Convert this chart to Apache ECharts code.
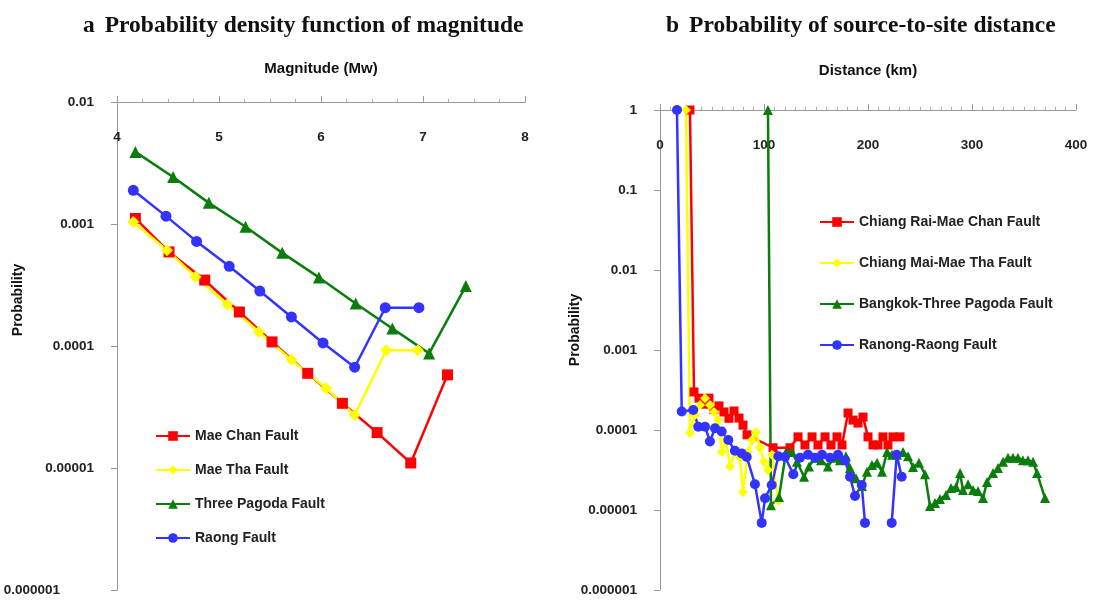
<!DOCTYPE html>
<html lang="en">
<head>
<meta charset="UTF-8">
<title>Magnitude and distance probability</title>
<script src="https://cdn.jsdelivr.net/npm/echarts@6/dist/echarts.min.js"></script>
<style>
  html, body { margin: 0; padding: 0; background: #fff; }
  #chart { width: 1095px; height: 609px; }
</style>
</head>
<body>
<div id="chart"></div>
<script>
// ---- panel a: probability density of magnitude ----
var magRed = [4.18, 4.51, 4.86, 5.20, 5.52, 5.87, 6.21, 6.55, 6.88, 7.24];
var probRed = [1.11e-3, 5.9e-4, 3.47e-4, 1.9e-4, 1.08e-4, 5.97e-5, 3.39e-5, 1.95e-5, 1.1e-5, 5.8e-5];
var magYellow = [4.16, 4.49, 4.77, 5.08, 5.39, 5.71, 6.05, 6.33, 6.64, 6.95];
var probYellow = [1.04e-3, 6.1e-4, 3.69e-4, 2.2e-4, 1.31e-4, 7.7e-5, 4.5e-5, 2.72e-5, 9.25e-5, 9.25e-5];
var magGreen = [4.18, 4.55, 4.90, 5.26, 5.62, 5.98, 6.34, 6.70, 7.06, 7.42];
var probGreen = [3.9e-3, 2.43e-3, 1.49e-3, 9.5e-4, 5.8e-4, 3.65e-4, 2.23e-4, 1.39e-4, 8.7e-5, 3.1e-4];
var magBlue = [4.16, 4.48, 4.78, 5.10, 5.40, 5.71, 6.02, 6.33, 6.63, 6.96];
var probBlue = [1.89e-3, 1.16e-3, 7.2e-4, 4.5e-4, 2.82e-4, 1.73e-4, 1.06e-4, 6.7e-5, 2.06e-4, 2.06e-4];
var leftNames = ['Mae Chan Fault', 'Mae Tha Fault', 'Three Pagoda Fault', 'Raong Fault'];

// ---- panel b: probability of source-to-site distance ----
var distRed = [28.8, 32.7, 37.5, 42.3, 47.1, 51.9, 56.7, 61.5, 66.3, 71.2, 76, 79.8, 83.7, 108.7, 125, 132.7, 139.4, 146.2, 151.9, 158.7, 164.4, 170.2, 175, 180.8, 185.6, 190.4, 195.2, 200, 204.8, 209.6, 214.4, 219.2, 224, 230.8];
var pRed = [1, 2.99e-4, 2.5e-4, 2.1e-4, 2.5e-4, 1.8e-4, 2.0e-4, 1.68e-4, 1.4e-4, 1.73e-4, 1.41e-4, 1.15e-4, 8.7e-5, 6.0e-5, 6.0e-5, 8.2e-5, 6.5e-5, 8.2e-5, 6.5e-5, 8.2e-5, 6.5e-5, 8.2e-5, 6.5e-5, 1.63e-4, 1.33e-4, 1.22e-4, 1.45e-4, 8.2e-5, 6.5e-5, 6.5e-5, 8.2e-5, 6.5e-5, 8.2e-5, 8.2e-5];
var distYellow = [25.0, 28.8, 33.7, 38.5, 43.3, 48.1, 51.9, 55.8, 59.6, 63.5, 67.3, 72.1, 76.9, 79.8, 84.6, 88.5, 92.3, 96.2, 100, 103.8, 107.7, 113.5];
var pYellow = [1, 9.2e-5, 1.54e-4, 2.05e-4, 2.5e-4, 2.05e-4, 1.68e-4, 1.33e-4, 5.3e-5, 7.5e-5, 3.5e-5, 5.3e-5, 4.5e-5, 1.68e-5, 5.3e-5, 7.5e-5, 9.4e-5, 6.0e-5, 4.0e-5, 3.16e-5, 4.9e-5, 1.3e-5];
var distGreen = [103.8, 106.7, 114.4, 121.2, 126.9, 131.7, 138.5, 143.3, 149.0, 154.8, 161.5, 167.3, 173.1, 178.8, 182.7, 188.5, 194.2, 199.0, 203.8, 208.7, 213.5, 218.3, 223.1, 227.9, 233.7, 238.5, 243.3, 249.0, 254.8, 259.6, 264.4, 269.2, 275.0, 279.8, 284.6, 288.5, 291.3, 296.2, 301.0, 305.8, 310.6, 314.4, 320.2, 325.0, 329.8, 334.6, 339.4, 344.2, 349.0, 353.8, 358.7, 362.5, 370.2];
var pGreen = [1, 1.15e-5, 1.45e-5, 5.3e-5, 5.3e-5, 4.0e-5, 2.6e-5, 3.5e-5, 4.5e-5, 4.2e-5, 3.5e-5, 4.5e-5, 4.2e-5, 4.7e-5, 3.35e-5, 2.5e-5, 2.0e-5, 3.0e-5, 3.65e-5, 3.9e-5, 3.0e-5, 5.3e-5, 4.9e-5, 4.9e-5, 5.3e-5, 4.7e-5, 3.45e-5, 3.9e-5, 2.8e-5, 1.12e-5, 1.22e-5, 1.37e-5, 1.54e-5, 1.88e-5, 1.94e-5, 2.9e-5, 1.78e-5, 2.1e-5, 1.78e-5, 1.73e-5, 1.41e-5, 2.24e-5, 2.9e-5, 3.35e-5, 4.0e-5, 4.5e-5, 4.5e-5, 4.5e-5, 4.2e-5, 4.2e-5, 4.0e-5, 2.9e-5, 1.41e-5];
var distBlue = [16.3, 20.9, 32, 36.8, 43.3, 48, 52.9, 59.3, 65.7, 72, 78.6, 83.4, 91.3, 97.8, 101, 107.4, 113.8, 120.2, 128.2, 134.6, 142.3, 149, 155.8, 163.5, 171.2, 177.9, 182.7, 187.5, 194, 197.1, 210, 222.8, 227.6, 232.4];
var pBlue = [1, 1.7e-4, 1.78e-4, 1.1e-4, 1.1e-4, 7.2e-5, 1.05e-4, 9.6e-5, 7.5e-5, 5.5e-5, 5.1e-5, 4.6e-5, 2.1e-5, 6.9e-6, 1.4e-5, 2.05e-5, 4.7e-5, 4.6e-5, 2.8e-5, 4.5e-5, 4.9e-5, 4.5e-5, 4.9e-5, 4.5e-5, 4.9e-5, 4.2e-5, 2.6e-5, 1.5e-5, 2.05e-5, 6.9e-6, '-', 6.9e-6, 4.9e-5, 2.6e-5];
var rightNames = ['Chiang Rai-Mae Chan Fault', 'Chiang Mai-Mae Tha Fault', 'Bangkok-Three Pagoda Fault', 'Ranong-Raong Fault'];

var RED = '#ff0000', YELLOW = '#ffff00', GREEN = '#0b7d0b', BLUE = '#3333ff';
var sans = 'Liberation Sans, Arial, sans-serif';
var serif = 'Liberation Serif, Times New Roman, serif';

function zip(xs, ys) {
  return xs.map(function (x, i) { return [x, ys[i]]; });
}

function line(name, xs, ys, color, symbol, size, idx) {
  return {
    name: name,
    type: 'line',
    xAxisIndex: idx,
    yAxisIndex: idx,
    data: zip(xs, ys),
    symbol: symbol,
    symbolSize: size,
    clip: false,
    connectNulls: false,
    lineStyle: { color: color, width: 2.5 },
    itemStyle: { color: color },
    emphasis: { disabled: true }
  };
}

function logLabel(v) {
  var e = Math.round(Math.log10(v));
  return e >= 0 ? String(Math.round(v)) : v.toFixed(-e);
}

// in the left panel the lowest label sits further left than the others
function logLabelLeft(v) {
  var s = logLabel(v);
  return Math.round(Math.log10(v)) === -6 ? '{low|' + s + '}' : s;
}

var labelStyle = { fontFamily: sans, fontWeight: 'bold', fontSize: 13.5, color: '#222' };

function xAxisCfg(idx, min, max, step, minor, gap) {
  return {
    gridIndex: idx,
    type: 'value',
    position: 'top',
    min: min, max: max, interval: step,
    axisLine: { lineStyle: { color: '#999', width: 1 } },
    axisTick: { show: true, length: 6, lineStyle: { color: '#999' } },
    minorTick: { show: true, splitNumber: minor, length: 3, lineStyle: { color: '#aaa' } },
    splitLine: { show: false },
    axisLabel: Object.assign({ inside: true, margin: gap }, labelStyle)
  };
}

function yAxisCfg(idx, min, max, fmt) {
  return {
    gridIndex: idx,
    type: 'log',
    logBase: 10,
    min: min, max: max,
    axisLine: { show: true, lineStyle: { color: '#999', width: 1 } },
    axisTick: { show: true, length: 6, lineStyle: { color: '#999' } },
    splitLine: { show: false },
    axisLabel: Object.assign({
      margin: 23, formatter: fmt,
      rich: { low: { fontFamily: sans, fontWeight: 'bold', fontSize: 13.5, color: '#222', padding: [0, 34, 0, 0] } }
    }, labelStyle)
  };
}

var legendText = { fontFamily: sans, fontWeight: 'bold', fontSize: 14, color: '#222' };
var nameStyle = { fontFamily: sans, fontWeight: 'bold', fontSize: 15, color: '#111' };

var option = {
  animation: false,
  backgroundColor: '#fff',
  title: [
    {
      left: 78, top: 9,
      text: '{a|a}  {t|Probability density function of magnitude}',
      textStyle: { rich: {
        a: { fontFamily: serif, fontWeight: 'bold', fontSize: 23.5, color: '#111' },
        t: { fontFamily: serif, fontSize: 23.5, color: '#111' }
      } }
    },
    {
      left: 661, top: 9,
      text: '{a|b}  {t|Probability of source-to-site distance}',
      textStyle: { rich: {
        a: { fontFamily: serif, fontWeight: 'bold', fontSize: 23.5, color: '#111' },
        t: { fontFamily: serif, fontSize: 23.5, color: '#111' }
      } }
    }
  ],
  grid: [
    { left: 117, top: 102, width: 408, height: 488, outerBoundsMode: 'none', containLabel: false },
    { left: 660, top: 110, width: 416, height: 480, outerBoundsMode: 'none', containLabel: false }
  ],
  xAxis: [
    Object.assign(xAxisCfg(0, 4, 8, 1, 4, 28), {
      name: 'Magnitude (Mw)', nameLocation: 'middle', nameGap: 26, nameTextStyle: nameStyle
    }),
    Object.assign(xAxisCfg(1, 0, 400, 100, 10, 28), {
      name: 'Distance (km)', nameLocation: 'middle', nameGap: 32, nameTextStyle: nameStyle
    })
  ],
  yAxis: [
    yAxisCfg(0, 1e-6, 1e-2, logLabelLeft),
    yAxisCfg(1, 1e-6, 1, logLabel)
  ],
  legend: [
    {
      data: leftNames, orient: 'vertical', left: 155, top: 429, padding: 0,
      itemGap: 20, itemWidth: 34, itemHeight: 12, textStyle: legendText
    },
    {
      data: rightNames, orient: 'vertical', left: 819, top: 215, padding: 0,
      itemGap: 27, itemWidth: 34, itemHeight: 12, textStyle: legendText
    }
  ],
  graphic: [
    {
      type: 'text', x: 18, y: 300, rotation: Math.PI / 2,
      style: { text: 'Probability', x: 0, y: 0, align: 'center', verticalAlign: 'middle',
        font: 'bold 14px ' + sans, fill: '#111' }
    },
    {
      type: 'text', x: 575, y: 330, rotation: Math.PI / 2,
      style: { text: 'Probability', x: 0, y: 0, align: 'center', verticalAlign: 'middle',
        font: 'bold 14px ' + sans, fill: '#111' }
    }
  ],
  series: [
    line(leftNames[0], magRed, probRed, RED, 'rect', 11, 0),
    line(leftNames[1], magYellow, probYellow, YELLOW, 'diamond', 12, 0),
    line(leftNames[2], magGreen, probGreen, GREEN, 'triangle', 12, 0),
    line(leftNames[3], magBlue, probBlue, BLUE, 'circle', 11, 0),
    line(rightNames[0], distRed, pRed, RED, 'rect', 9, 1),
    line(rightNames[1], distYellow, pYellow, YELLOW, 'diamond', 10, 1),
    line(rightNames[2], distGreen, pGreen, GREEN, 'triangle', 10, 1),
    line(rightNames[3], distBlue, pBlue, BLUE, 'circle', 10, 1)
  ]
};

var myChart = echarts.init(document.getElementById('chart'), null, { renderer: 'canvas' });
myChart.setOption(option);
</script>
</body>
</html>
